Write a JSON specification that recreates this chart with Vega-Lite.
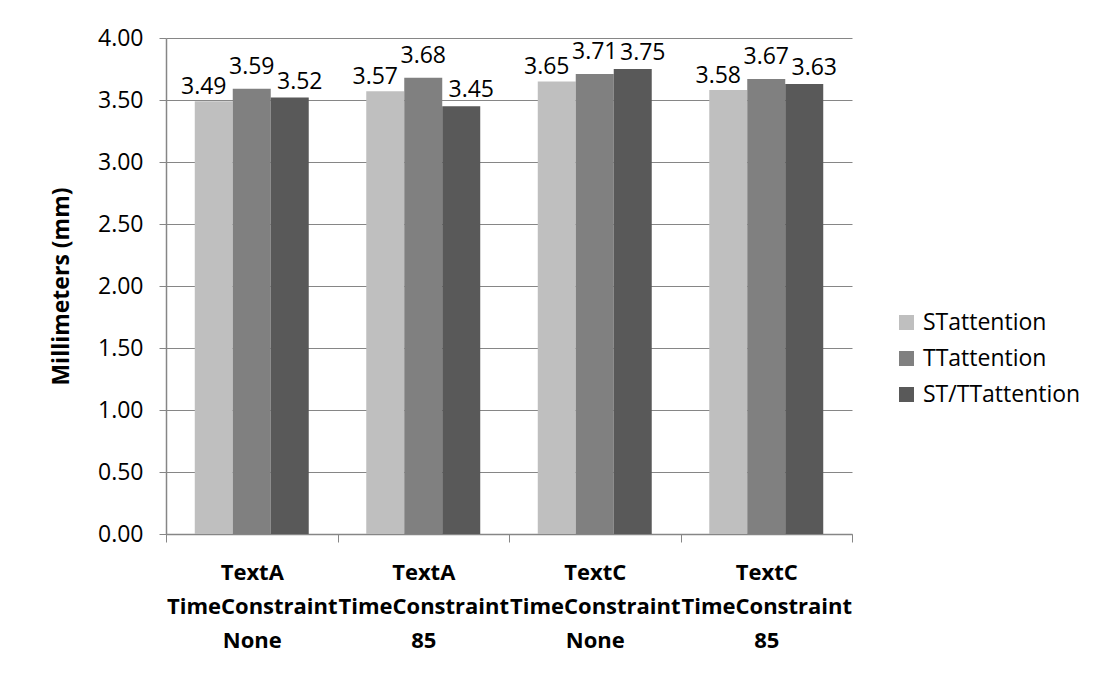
{
  "$schema": "https://vega.github.io/schema/vega-lite/v6.json",
  "autosize": "none",
  "width": 686,
  "height": 496,
  "padding": {"left": 166, "top": 38, "right": 241, "bottom": 148},
  "background": "white",
  "config": {
    "font": "Open Sans",
    "view": {"stroke": null},
    "axis": {"labelFont": "Open Sans", "titleFont": "Open Sans", "labelColor": "#000000", "titleColor": "#000000"},
    "legend": {"labelFont": "Open Sans"}
  },
  "data": {
    "values": [
      {"group": "TextA|TimeConstraint|None", "series": "STattention", "value": 3.49},
      {"group": "TextA|TimeConstraint|None", "series": "TTattention", "value": 3.59},
      {"group": "TextA|TimeConstraint|None", "series": "ST/TTattention", "value": 3.52},
      {"group": "TextA|TimeConstraint|85", "series": "STattention", "value": 3.57},
      {"group": "TextA|TimeConstraint|85", "series": "TTattention", "value": 3.68},
      {"group": "TextA|TimeConstraint|85", "series": "ST/TTattention", "value": 3.45},
      {"group": "TextC|TimeConstraint|None", "series": "STattention", "value": 3.65},
      {"group": "TextC|TimeConstraint|None", "series": "TTattention", "value": 3.71},
      {"group": "TextC|TimeConstraint|None", "series": "ST/TTattention", "value": 3.75},
      {"group": "TextC|TimeConstraint|85", "series": "STattention", "value": 3.58},
      {"group": "TextC|TimeConstraint|85", "series": "TTattention", "value": 3.67},
      {"group": "TextC|TimeConstraint|85", "series": "ST/TTattention", "value": 3.63}
    ]
  },
  "encoding": {
    "x": {
      "field": "group",
      "type": "nominal",
      "sort": null,
      "scale": {"paddingInner": 0, "paddingOuter": 0},
      "axis": {
        "title": null,
        "labelAngle": 0,
        "labelExpr": "split(datum.label, '|')",
        "labelFontSize": 22,
        "labelFontWeight": "bold",
        "labelLineHeight": 34,
        "labelPadding": 20,
        "labelOverlap": false,
        "labelLimit": 0,
        "tickBand": "extent",
        "tickSize": 8,
        "tickColor": "#868686",
        "domainColor": "#868686",
        "domainWidth": 1.5,
        "grid": false
      }
    },
    "xOffset": {
      "field": "series",
      "type": "nominal",
      "sort": ["STattention", "TTattention", "ST/TTattention"],
      "scale": {"paddingInner": 0, "paddingOuter": 0.757}
    },
    "y": {
      "field": "value",
      "type": "quantitative",
      "scale": {"domain": [0, 4], "nice": false},
      "axis": {
        "title": "Millimeters (mm)",
        "titleFontSize": 23,
        "titleFontWeight": "bold",
        "titlePadding": 24,
        "values": [0, 0.5, 1, 1.5, 2, 2.5, 3, 3.5, 4],
        "format": ".2f",
        "labelFontSize": 23,
        "labelPadding": 16,
        "tickSize": 7,
        "tickColor": "#868686",
        "domainColor": "#868686",
        "domainWidth": 1.5,
        "grid": true,
        "gridColor": "#868686",
        "gridWidth": 1
      }
    }
  },
  "layer": [
    {
      "mark": {"type": "bar"},
      "encoding": {
        "color": {
          "field": "series",
          "type": "nominal",
          "sort": ["STattention", "TTattention", "ST/TTattention"],
          "scale": {"domain": ["STattention", "TTattention", "ST/TTattention"], "range": ["#BFBFBF", "#808080", "#595959"]},
          "legend": {
            "title": null,
            "orient": "none",
            "legendX": 729,
            "legendY": 273,
            "symbolType": "square",
            "symbolSize": 225,
            "symbolStrokeWidth": 0,
            "symbolOpacity": 1,
            "labelFontSize": 23,
            "labelColor": "#000000",
            "labelOffset": 5,
            "rowPadding": 12,
            "labelLimit": 0
          }
        }
      }
    },
    {
      "transform": [{"filter": "datum.series === 'STattention'"}],
      "mark": {"type": "text", "baseline": "bottom", "dy": -2, "dx": -10, "fontSize": 23, "color": "#000000"},
      "encoding": {
        "text": {"field": "value", "type": "quantitative", "format": ".2f"}
      }
    },
    {
      "transform": [{"filter": "datum.series === 'TTattention'"}],
      "mark": {"type": "text", "baseline": "bottom", "dy": -10, "fontSize": 23, "color": "#000000"},
      "encoding": {
        "text": {"field": "value", "type": "quantitative", "format": ".2f"}
      }
    },
    {
      "transform": [{"filter": "datum.series === 'ST/TTattention'"}],
      "mark": {"type": "text", "baseline": "bottom", "dy": -4, "dx": 10, "fontSize": 23, "color": "#000000"},
      "encoding": {
        "text": {"field": "value", "type": "quantitative", "format": ".2f"}
      }
    }
  ]
}
